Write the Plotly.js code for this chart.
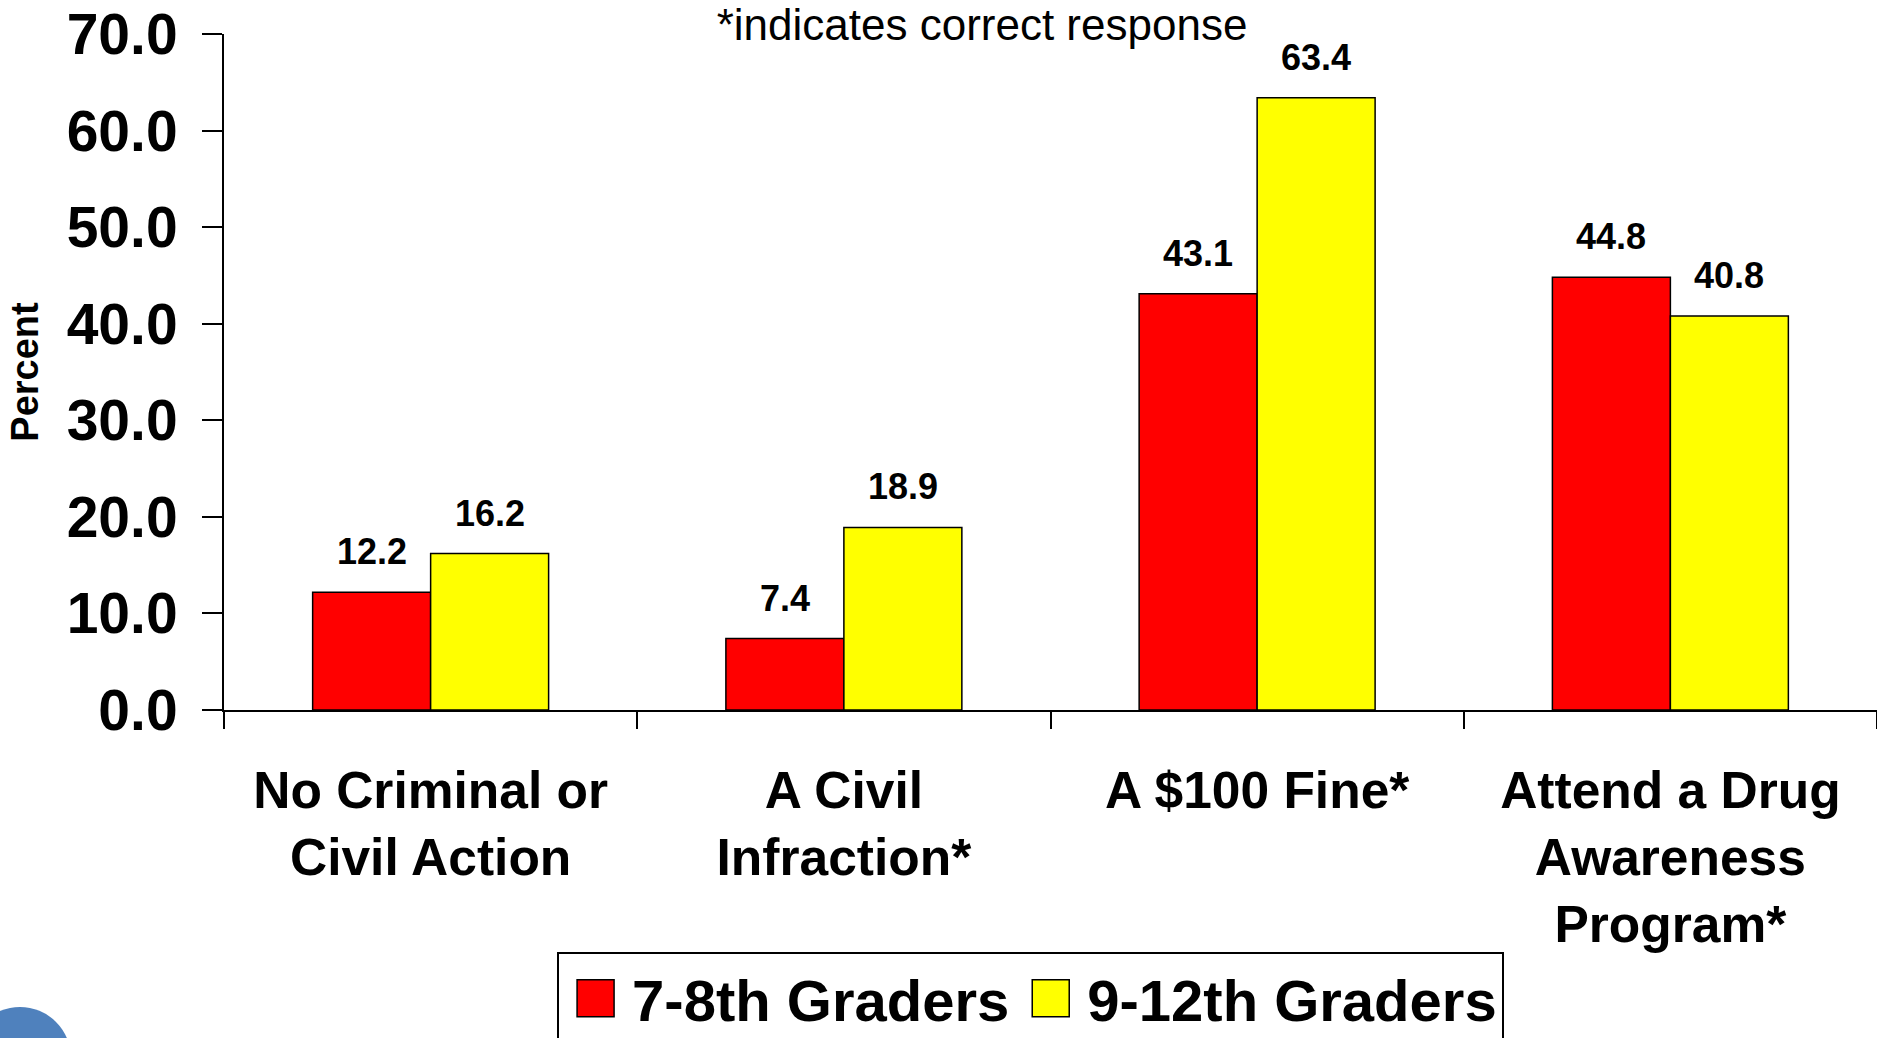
<!DOCTYPE html>
<html>
<head>
<meta charset="utf-8">
<script src="https://cdn.plot.ly/plotly-3.0.1.min.js"></script>
<style>
  html, body { margin: 0; padding: 0; background: #ffffff; }
  #chart { width: 1877px; height: 1038px; }
</style>
</head>
<body>
<div id="chart"></div>
<script>
// ---- data ----
const categories = [
  "No Criminal or<br>Civil Action",
  "A Civil<br>Infraction*",
  "A $100 Fine*",
  "Attend a Drug<br>Awareness<br>Program*"
];
const seriesNames = ["7-8th Graders", "9-12th Graders"];
const grade78 = [12.2, 7.4, 43.1, 44.8];
const grade912 = [16.2, 18.9, 63.4, 40.8];
const yTickVals = [0, 10, 20, 30, 40, 50, 60, 70];
const yTickText = ["0.0", "10.0", "20.0", "30.0", "40.0", "50.0", "60.0", "70.0"];
const noteText = "*indicates correct response";
const yTitle = "Percent";

// ---- styling ----
const FONT = "Liberation Sans, Arial, Helvetica, sans-serif";
const colors = ["#FF0000", "#FFFF00"];
const seriesValues = [grade78, grade912];
const labelShift = [-59, 59];

const traces = seriesValues.map((vals, i) => ({
  type: "bar",
  name: seriesNames[i],
  x: categories,
  y: vals,
  marker: { color: colors[i], line: { color: "#000000", width: 1.5 } },
  hoverinfo: "skip"
}));

const annotations = [];
seriesValues.forEach((vals, i) => {
  vals.forEach((v, j) => {
    annotations.push({
      x: categories[j], y: v, xref: "x", yref: "y",
      text: v.toFixed(1),
      showarrow: false,
      xshift: labelShift[i],
      yanchor: "bottom",
      yshift: 18,
      font: { family: FONT, size: 36, color: "#000000", weight: 700 }
    });
  });
});

const layout = {
  width: 1877,
  height: 1038,
  paper_bgcolor: "#ffffff",
  plot_bgcolor: "#ffffff",
  margin: { l: 224, r: 0, t: 34, b: 328, autoexpand: false },
  font: { family: FONT, color: "#000000" },
  title: {
    text: noteText,
    xref: "container", yref: "container",
    x: 0.5232, xanchor: "center",
    y: 0.9760, yanchor: "middle",
    font: { family: FONT, size: 44, color: "#000000" }
  },
  barmode: "group",
  bargap: 0.429,
  bargroupgap: 0,
  showlegend: true,
  legend: {
    orientation: "h",
    x: 0.2015, xanchor: "left",
    y: -0.358, yanchor: "top",
    bgcolor: "#ffffff",
    bordercolor: "#000000",
    borderwidth: 2,
    itemwidth: 63,
    font: { family: FONT, size: 58, color: "#000000", weight: 700 },
    itemclick: false, itemdoubleclick: false
  },
  xaxis: {
    type: "category",
    showline: true, linecolor: "#000000", linewidth: 2,
    showgrid: false, zeroline: false,
    ticks: "outside", tickson: "boundaries", ticklen: 17, tickwidth: 2, tickcolor: "#000000",
    ticklabelstandoff: 34,
    tickfont: { family: FONT, size: 51.5, color: "#000000", weight: 700 },
    fixedrange: true
  },
  yaxis: {
    range: [0, 70],
    tickvals: yTickVals,
    ticktext: yTickText,
    showline: true, linecolor: "#000000", linewidth: 2,
    showgrid: false, zeroline: false,
    ticks: "outside", ticklen: 20, tickwidth: 2, tickcolor: "#000000",
    ticklabelstandoff: 13,
    tickfont: { family: FONT, size: 57, color: "#000000", weight: 700 },
    title: { text: yTitle, standoff: 16, font: { family: FONT, size: 38, color: "#000000", weight: 700 } },
    fixedrange: true
  },
  annotations: annotations,
  shapes: [{
    type: "circle", xref: "paper", yref: "paper",
    x0: -0.1543, x1: -0.0926, y0: -0.590, y1: -0.4393,
    fillcolor: "#4F81BD", line: { width: 0 }, layer: "above"
  }]
};

function enlargeSwatches() {
  document.querySelectorAll("#chart .legend .legendpoints path").forEach(p => {
    p.setAttribute("d", "M18.5,18.5H-18.5V-18.5H18.5Z");
  });
}

Plotly.newPlot("chart", traces, layout, { displayModeBar: false, staticPlot: true }).then(() => {
  enlargeSwatches();
  setTimeout(enlargeSwatches, 50);
  requestAnimationFrame(enlargeSwatches);
});
</script>
</body>
</html>
